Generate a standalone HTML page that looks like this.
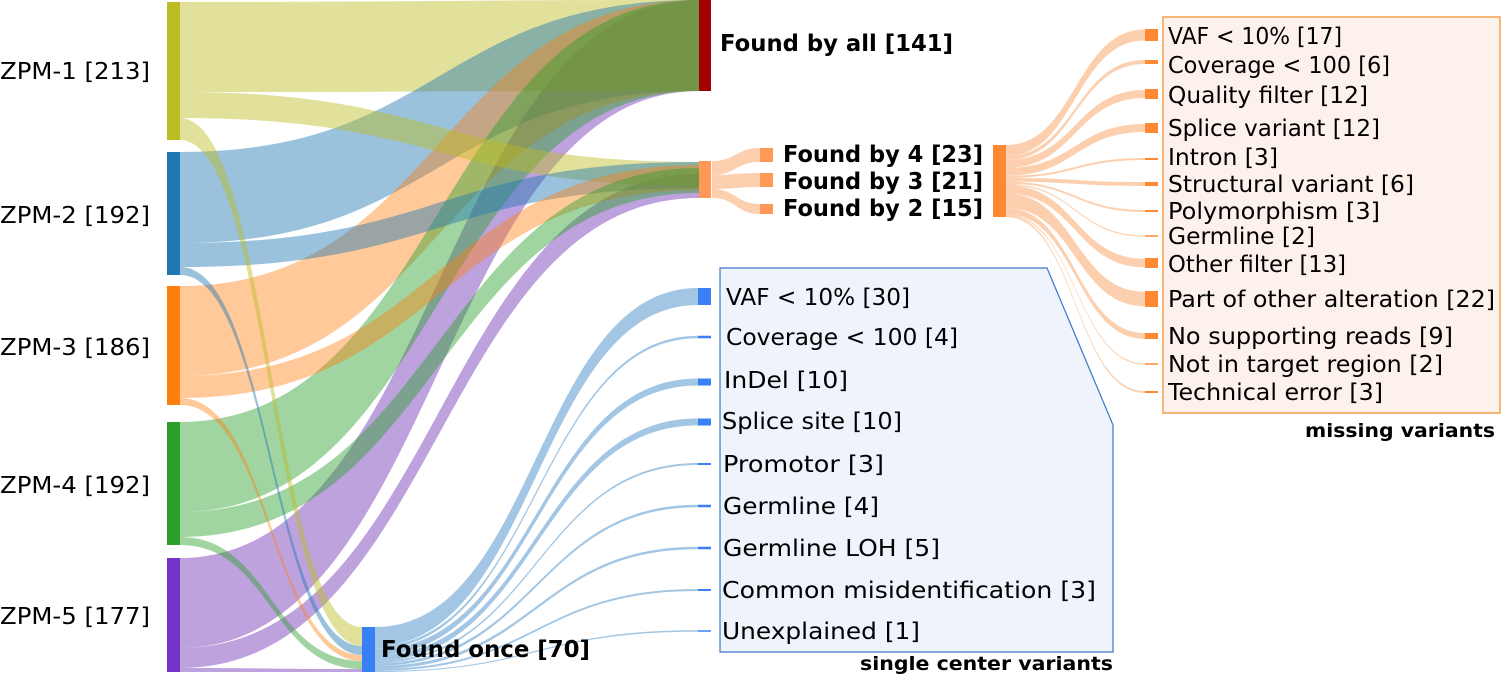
<!DOCTYPE html>
<html><head><meta charset="utf-8"><style>
html,body{margin:0;padding:0;background:#fff}
svg text{font-family:"DejaVu Sans","Liberation Sans",sans-serif;dominant-baseline:central;fill:#000}
.b{font-weight:bold}
</style></head><body>
<svg id="s" width="1501" height="678" viewBox="0 0 1501 678" xmlns="http://www.w3.org/2000/svg">
<rect x="1163" y="17" width="337" height="396" fill="#fdf1ec" stroke="#f5a050" stroke-width="1.5"/>
<polygon points="720,268 1047,268 1113,425 1113,652 720,652" fill="#eef3fc" stroke="#3a78c8" stroke-width="1.2"/>
<g id="links"></g>
<g id="nodes"></g>
<g font-size="23">
<text x="0" y="72" textLength="150" lengthAdjust="spacingAndGlyphs">ZPM-1 [213]</text>
<text x="0" y="216" textLength="150" lengthAdjust="spacingAndGlyphs">ZPM-2 [192]</text>
<text x="0" y="348" textLength="150" lengthAdjust="spacingAndGlyphs">ZPM-3 [186]</text>
<text x="0" y="486" textLength="150" lengthAdjust="spacingAndGlyphs">ZPM-4 [192]</text>
<text x="0" y="617" textLength="150" lengthAdjust="spacingAndGlyphs">ZPM-5 [177]</text>
<text class="b" x="720" y="44" textLength="233" lengthAdjust="spacingAndGlyphs">Found by all [141]</text>
<text class="b" x="783" y="155" textLength="200" lengthAdjust="spacingAndGlyphs">Found by 4 [23]</text>
<text class="b" x="783" y="182" textLength="200" lengthAdjust="spacingAndGlyphs">Found by 3 [21]</text>
<text class="b" x="783" y="209" textLength="200" lengthAdjust="spacingAndGlyphs">Found by 2 [15]</text>
<text class="b" x="381" y="650" textLength="209" lengthAdjust="spacingAndGlyphs">Found once [70]</text>
<text x="726" y="298" textLength="184" lengthAdjust="spacingAndGlyphs">VAF &lt; 10% [30]</text>
<text x="726" y="338" textLength="232" lengthAdjust="spacingAndGlyphs">Coverage &lt; 100 [4]</text>
<text x="724" y="381" textLength="124" lengthAdjust="spacingAndGlyphs">InDel [10]</text>
<text x="722" y="422" textLength="180" lengthAdjust="spacingAndGlyphs">Splice site [10]</text>
<text x="723" y="465" textLength="161" lengthAdjust="spacingAndGlyphs">Promotor [3]</text>
<text x="723" y="507" textLength="156" lengthAdjust="spacingAndGlyphs">Germline [4]</text>
<text x="723" y="549" textLength="217" lengthAdjust="spacingAndGlyphs">Germline LOH [5]</text>
<text x="722" y="591" textLength="374" lengthAdjust="spacingAndGlyphs">Common misidentification [3]</text>
<text x="722" y="632" textLength="198" lengthAdjust="spacingAndGlyphs">Unexplained [1]</text>
<text x="1168" y="37" textLength="174" lengthAdjust="spacingAndGlyphs">VAF &lt; 10% [17]</text>
<text x="1168" y="66" textLength="222" lengthAdjust="spacingAndGlyphs">Coverage &lt; 100  [6]</text>
<text x="1168" y="96" textLength="200" lengthAdjust="spacingAndGlyphs">Quality filter [12]</text>
<text x="1168" y="129" textLength="212" lengthAdjust="spacingAndGlyphs">Splice variant [12]</text>
<text x="1168" y="158" textLength="110" lengthAdjust="spacingAndGlyphs">Intron [3]</text>
<text x="1168" y="185" textLength="246" lengthAdjust="spacingAndGlyphs">Structural variant [6]</text>
<text x="1168" y="212" textLength="212" lengthAdjust="spacingAndGlyphs">Polymorphism [3]</text>
<text x="1168" y="237" textLength="147" lengthAdjust="spacingAndGlyphs">Germline [2]</text>
<text x="1168" y="265" textLength="178" lengthAdjust="spacingAndGlyphs">Other filter [13]</text>
<text x="1168" y="300" textLength="327" lengthAdjust="spacingAndGlyphs">Part of other alteration [22]</text>
<text x="1168" y="337" textLength="285" lengthAdjust="spacingAndGlyphs">No supporting reads [9]</text>
<text x="1168" y="365" textLength="275" lengthAdjust="spacingAndGlyphs">Not in target region [2]</text>
<text x="1168" y="393" textLength="215" lengthAdjust="spacingAndGlyphs">Technical error [3]</text>
</g>
<text class="b" x="1305" y="431" font-size="19" textLength="190" lengthAdjust="spacingAndGlyphs">missing variants</text>
<text class="b" x="860" y="664" font-size="19" textLength="253" lengthAdjust="spacingAndGlyphs">single center variants</text>
</svg>
<script>
(function(){
var NS="http://www.w3.org/2000/svg";
var L=document.getElementById("links"),N=document.getElementById("nodes");
function band(x0,a0,a1,x1,b0,b1,c){var m=(x0+x1)/2;var p=document.createElementNS(NS,"path");
p.setAttribute("d","M"+x0+","+a0+"C"+m+","+a0+" "+m+","+b0+" "+x1+","+b0+"L"+x1+","+b1+"C"+m+","+b1+" "+m+","+a1+" "+x0+","+a1+"Z");
p.setAttribute("fill",c);L.appendChild(p);}
function node(x,y0,y1,w,c){var r=document.createElementNS(NS,"rect");r.setAttribute("x",x);r.setAttribute("y",y0);r.setAttribute("width",w);r.setAttribute("height",Math.max(1.5,y1-y0));r.setAttribute("fill",c);N.appendChild(r);}
var Y="rgba(188,189,34,0.45)",B="rgba(31,119,180,0.45)",O="rgba(255,127,14,0.42)",G="rgba(44,160,44,0.45)",P="rgba(125,70,190,0.5)";
// purple first (underneath)
band(180,558,648,699,0,91,P);band(180,648,668,699,174,198,P);band(180,668,672,362,669,672,P);
// to found by all
band(180,2,92,699,0,91,Y);band(180,152,243,699,0,91,B);band(180,286,376,699,0,91,O);band(180,422,512,699,0,91,G);
// to 4/3/2
band(180,92,118,699,162,186,Y);band(180,243,267,699,162,188,B);band(180,376,398,699,165,190,O);band(180,512,537,699,168,193,G);
// to once
band(180,118,140,362,627,646,Y);band(180,267,275,362,646,655,B);band(180,398,405,362,655,661,O);band(180,537,545,362,661,669,G);
// 4/3/2 to found by
var LO="rgba(250,170,110,0.55)";
band(712,161,175,760,148,162,LO);band(712,175,189,760,173,187,LO);band(712,189,198,760,204,214,LO);
// once to single center
var LB="rgba(100,160,210,0.6)";
var sc=[[19,296.5,17],[3,337,2.5],[6,382,7],[6,422,7],[2,464,2],[3,506,2.5],[3,548,2.5],[2,590,2],[1,631,1.5]];
var s=627;sc.forEach(function(d){band(375,s,s+d[0],698,d[1]-d[2]/2,d[1]+d[2]/2,LB);s+=d[0];});
// right fan
var mv=[[11.1,35,12],[3.9,62,4],[7.9,94,10],[7.9,128,10],[2,159,2],[3.9,184,4],[2,211,2],[1.3,236,1.5],[8.5,263,10],[14.4,299,16],[5.9,336,6],[1.3,364,1.5],[2,392,2]];
s=145;mv.forEach(function(d){band(1006,s,s+d[0],1145,d[1]-d[0]/2,d[1]+d[0]/2,LO);s+=d[0];});
// nodes
node(167,2,140,13,"#bcbd22");node(167,152,275,13,"#1f77b4");node(167,286,405,13,"#ff7f0e");node(167,422,545,13,"#2ca02c");node(167,558,672,13,"#7434c8");
node(699,0,91,12,"#a50000");node(699,161,198,12,"#ff9955");node(362,627,672,13,"#3a80f5");
node(760,148,162,13,"#ff9955");node(760,173,187,13,"#ff9955");node(760,204,214,13,"#ff9955");
node(993,145,217,13,"#ff8833");
mv.forEach(function(d){node(1145,d[1]-d[2]/2,d[1]+d[2]/2,13,"#ff8833");});
sc.forEach(function(d){node(698,d[1]-d[2]/2,d[1]+d[2]/2,13,"#3a80f5");});
})();
</script>
</body></html>
